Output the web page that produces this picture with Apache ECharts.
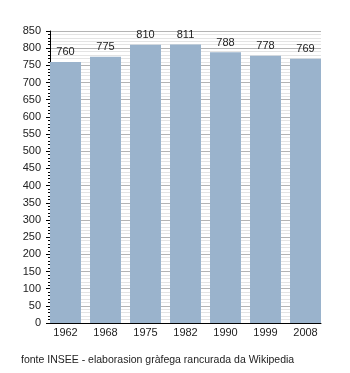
<!DOCTYPE html>
<html>
<head>
<meta charset="UTF-8">
<script src="https://cdn.jsdelivr.net/npm/echarts@6/dist/echarts.min.js"></script>
<style>
  html, body { margin: 0; padding: 0; background: #fff; }
  #main { width: 350px; height: 373px; }
</style>
</head>
<body>
<div id="main"></div>
<script>
var years = ['1962', '1968', '1975', '1982', '1990', '1999', '2008'];
var population = [760, 775, 810, 811, 788, 778, 769];
var yTicks = { min: 0, max: 850, step: 50 };

var chart = echarts.init(document.getElementById('main'));

// bars on a value x-axis so the first and last bar touch the plot edges
var barData = population.map(function (v, i) { return [i, v]; });
var idx = years.map(function (y, i) { return i; });

var option = {
  animation: false,
  textStyle: { fontFamily: 'Liberation Sans, Arial, sans-serif' },
  grid: { left: 50, right: 29, top: 31, bottom: 50 },
  xAxis: {
    type: 'value',
    min: -0.3875,
    max: 6.3875,
    axisLine: { show: true, onZero: false, lineStyle: { color: '#000', width: 1 } },
    axisTick: { show: false },
    splitLine: { show: false },
    axisLabel: {
      customValues: idx,
      formatter: function (v) { return years[Math.round(v)]; },
      color: '#222',
      fontSize: 11,
      margin: 4
    }
  },
  yAxis: {
    type: 'value',
    min: yTicks.min,
    max: yTicks.max,
    interval: yTicks.step,
    axisLine: { show: true, onZero: false, lineStyle: { color: '#000', width: 1 } },
    axisTick: { show: true, length: 4, lineStyle: { color: '#000' } },
    minorTick: { show: true, splitNumber: 5, length: 2, lineStyle: { color: '#000' } },
    splitLine: { show: true, lineStyle: { color: '#b4b4b4', width: 1 } },
    minorSplitLine: { show: true, lineStyle: { color: '#e4e4e4', width: 1 } },
    axisLabel: { color: '#222', fontSize: 11, margin: 9 }
  },
  series: [{
    type: 'bar',
    data: barData,
    barWidth: 31,
    itemStyle: { color: '#9ab3cc' },
    label: {
      show: true,
      position: 'top',
      distance: 4,
      color: '#222',
      fontSize: 11,
      formatter: function (p) { return p.value[1]; }
    }
  }],
  graphic: [{
    type: 'text',
    left: 21,
    top: 355,
    style: {
      text: 'fonte INSEE - elaborasion gràfega rancurada da Wikipedia',
      fill: '#222',
      font: '10.5px Liberation Sans, Arial, sans-serif'
    }
  }]
};
chart.setOption(option);
</script>
</body>
</html>
